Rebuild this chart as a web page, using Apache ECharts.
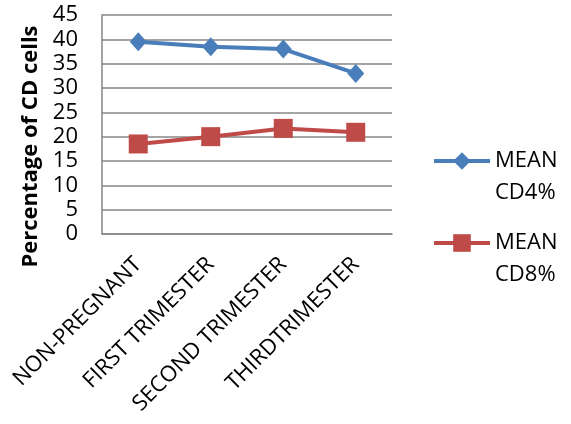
<!DOCTYPE html>
<html>
<head>
<meta charset="utf-8">
<script src="https://cdn.jsdelivr.net/npm/echarts@6/dist/echarts.min.js"></script>
<style>
  html, body { margin: 0; padding: 0; background: #fff; }
  #chart { width: 571px; height: 424px; }
</style>
</head>
<body>
<div id="chart"></div>
<script>
// Groups along the x axis
var categories = ['NON-PREGNANT', 'FIRST TRIMESTER', 'SECOND TRIMESTER', 'THIRDTRIMESTER'];
// Mean percentage of CD4 and CD8 cells per group
var meanCD4 = [39.5, 38.5, 38.0, 33.0];
var meanCD8 = [18.5, 20.0, 21.7, 20.9];
var yTicks = { min: 0, max: 45, interval: 5 };

var FONT = 'Open Sans';
var chart = echarts.init(document.getElementById('chart'), null, { renderer: 'canvas' });

// One legend block per series; the leading blank line keeps the marker
// level with the first line of the two-line label.
function legendFor(name, top) {
  return {
    data: [name],
    orient: 'vertical',
    left: 427,
    top: top,
    itemWidth: 56,
    itemHeight: 22,
    itemGap: 0,
    lineStyle: { width: 4 },
    formatter: function (n) { return '\n' + n.replace(' ', '\n'); },
    textStyle: {
      fontFamily: FONT,
      fontSize: 22,
      color: '#000',
      lineHeight: 32
    }
  };
}

chart.setOption({
  animation: false,
  grid: { left: 102, right: 179, top: 15, bottom: 190 },
  legend: [legendFor('MEAN CD4%', 108), legendFor('MEAN CD8%', 190)],
  xAxis: {
    type: 'category',
    data: categories,
    boundaryGap: true,
    axisLine: { lineStyle: { color: '#868686', width: 1.5 } },
    axisTick: { show: false },
    axisLabel: {
      rotate: 45,
      margin: 27,
      interval: 0,
      fontFamily: FONT,
      fontSize: 22,
      color: '#000'
    }
  },
  yAxis: {
    type: 'value',
    min: yTicks.min,
    max: yTicks.max,
    interval: yTicks.interval,
    name: 'Percentage of CD cells',
    nameLocation: 'middle',
    nameGap: 56,
    nameTextStyle: {
      fontFamily: FONT,
      fontSize: 22,
      fontWeight: 'bold',
      color: '#000',
      padding: [0, 44, 0, 0]
    },
    axisLine: { show: true, lineStyle: { color: '#868686', width: 1.5 } },
    axisTick: { show: false },
    splitLine: { lineStyle: { color: '#868686', width: 1.5 } },
    axisLabel: {
      margin: 24,
      fontFamily: FONT,
      fontSize: 22,
      color: '#000'
    }
  },
  series: [
    {
      name: 'MEAN CD4%',
      type: 'line',
      data: meanCD4,
      symbol: 'diamond',
      symbolSize: [17, 19],
      color: '#4A7EBB',
      lineStyle: { width: 4, color: '#4A7EBB' },
      itemStyle: { color: '#4A7EBB' }
    },
    {
      name: 'MEAN CD8%',
      type: 'line',
      data: meanCD8,
      symbol: 'rect',
      symbolSize: 19,
      color: '#BE4B48',
      lineStyle: { width: 4, color: '#BE4B48' },
      itemStyle: { color: '#BE4B48' }
    }
  ]
});
</script>
</body>
</html>
